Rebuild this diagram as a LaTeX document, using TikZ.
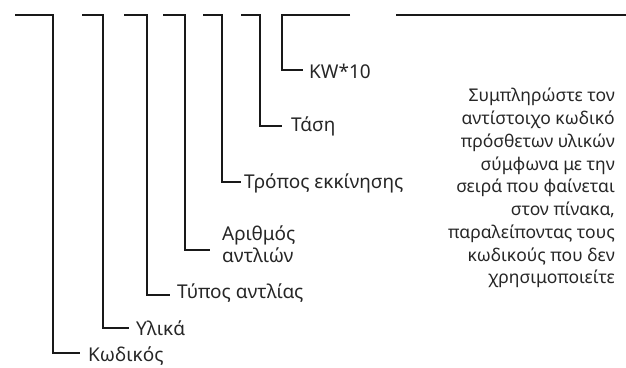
\documentclass[tikz,border=0pt]{standalone}
\usepackage{fontspec}
\setmainfont{Noto Sans}
\begin{document}
\begin{tikzpicture}[x=1pt,y=-1pt,
  conn/.style={line width=2.6pt,line join=miter,black!90},
  lab/.style={anchor=west,inner sep=0pt,font=\fontsize{19}{22}\selectfont,text=black!85},
  note/.style={anchor=north east,inner sep=0pt,align=right,font=\fontsize{17.5}{22.75}\selectfont,text=black!85}]
\useasboundingbox (0,0) rectangle (626,367);
% top starts
\coordinate (t1) at (15,15);
\coordinate (t2) at (82,15);
\coordinate (t3) at (124,15);
\coordinate (t4) at (163,15);
\coordinate (t5) at (203,15);
\coordinate (t6) at (241,15);
\coordinate (t7) at (350,15);
\coordinate (t8a) at (396,15);
\coordinate (t8b) at (626,15);
% corners
\coordinate (v1) at (53,353);
\coordinate (v2) at (103,328);
\coordinate (v3) at (147,295);
\coordinate (v4) at (185,250);
\coordinate (v5) at (222,182);
\coordinate (v6) at (260,126);
\coordinate (v7) at (282,70);
% labels
\node[lab] (k1) at (88,356) {Κωδικός};
\node[lab] (k2) at (136,328) {Υλικά};
\node[lab] (k3) at (177,293) {Τύπος αντλίας};
\node[lab,align=left] (k4) at (222,244) {Αριθμός\\αντλιών};
\node[lab] (k5) at (244,183) {Τρόπος εκκίνησης};
\node[lab] (k6) at (291,126) {Τάση};
\node[lab] (k7) at (309,71) {KW*10};
\node[note] (n) at (615,88) {Συμπληρώστε τον\\αντίστοιχο κωδικό\\πρόσθετων υλικών\\σύμφωνα με την\\σειρά που φαίνεται\\στον πίνακα,\\παραλείποντας τους\\κωδικούς που δεν\\χρησιμοποιείτε};
% connectors
\draw[conn] (t1) -| (v1) -- ([xshift=-8pt]v1 -| k1.west);
\draw[conn] (t2) -| (v2) -- ([xshift=-7pt]v2 -| k2.west);
\draw[conn] (t3) -| (v3) -- ([xshift=-7pt]v3 -| k3.west);
\draw[conn] (t4) -| (v4) -- ([xshift=-12pt]v4 -| k4.west);
\draw[conn] (t5) -| (v5) -- ([xshift=-3pt]v5 -| k5.west);
\draw[conn] (t6) -| (v6) -- ([xshift=-9pt]v6 -| k6.west);
\draw[conn] (t7) -| (v7) -- ([xshift=-6pt]v7 -| k7.west);
\draw[conn] (t8a) -- (t8b);
\end{tikzpicture}
\end{document}
